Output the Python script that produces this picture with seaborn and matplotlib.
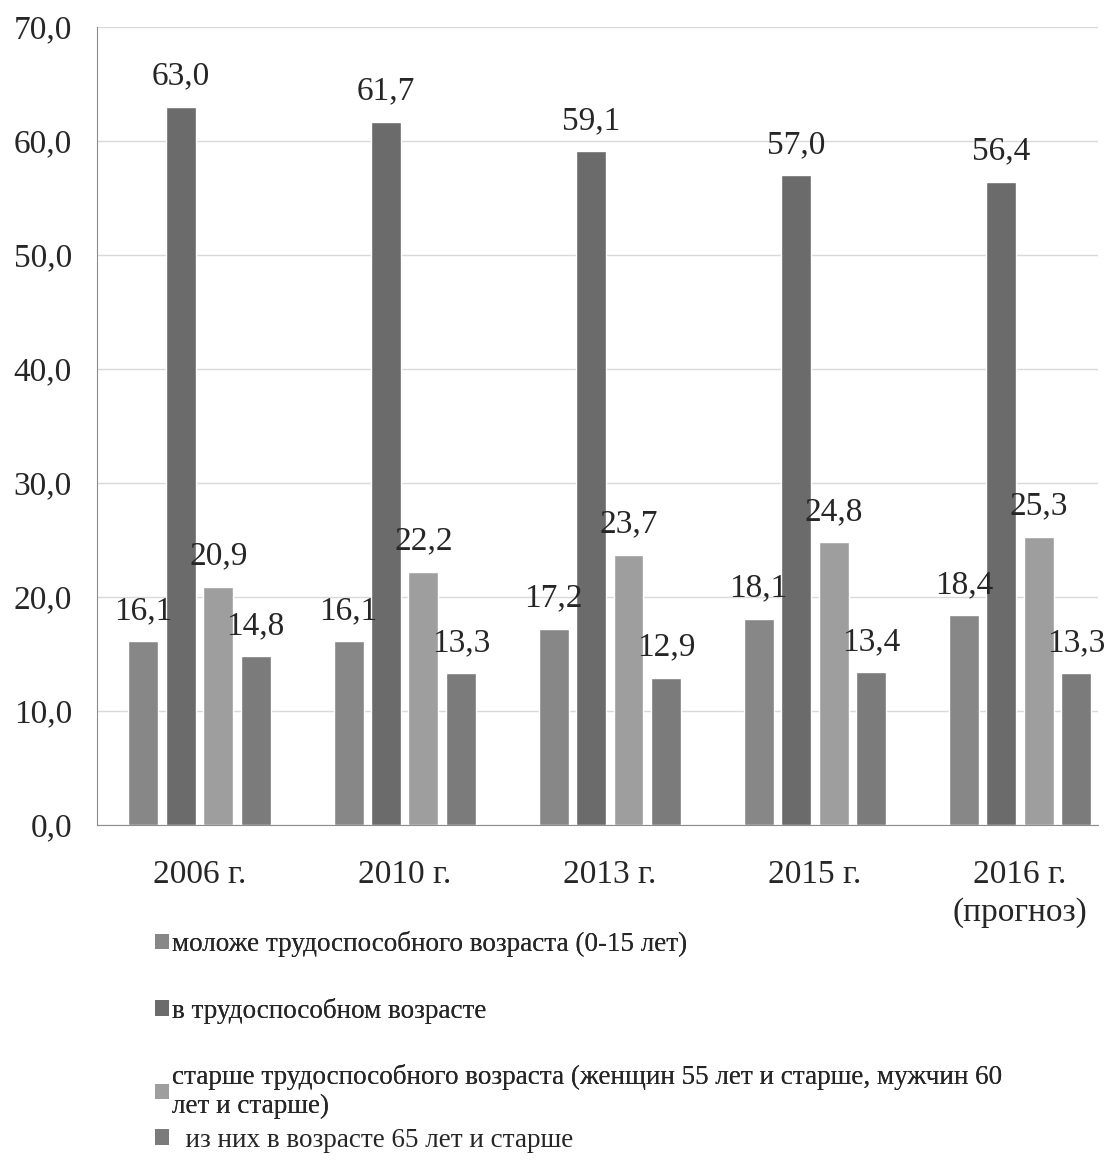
import pandas as pd
import numpy as np
import matplotlib
matplotlib.use('Agg')
import matplotlib.pyplot as plt
import seaborn as sns
from matplotlib.patches import Patch

# data
years = ['2006 г.', '2010 г.', '2013 г.', '2015 г.', '2016 г.\n(прогноз)']
series = ['моложе трудоспособного возраста (0-15 лет)',
          'в трудоспособном возрасте',
          'старше трудоспособного возраста (женщин 55 лет и старше, мужчин 60\nлет и старше)',
          '  из них в возрасте 65 лет и старше']
young = [16.1, 16.1, 17.2, 18.1, 18.4]
working = [63.0, 61.7, 59.1, 57.0, 56.4]
older = [20.9, 22.2, 23.7, 24.8, 25.3]
over65 = [14.8, 13.3, 12.9, 13.4, 13.3]
colors = ['#878787', '#6b6b6b', '#9e9e9e', '#7b7b7b']

rows = []
for name, vals in zip(series, [young, working, older, over65]):
    for y, v in zip(years, vals):
        rows.append({'year': y, 'group': name, 'value': v})
df = pd.DataFrame(rows)

sns.set_style('white')
plt.rcParams['font.family'] = ['Liberation Serif', 'DejaVu Serif']

fig = plt.figure(figsize=(11.09, 11.62), dpi=100)
ax = fig.add_axes([0.0875, 0.290, 0.9025, 0.6868])

sns.barplot(data=df, x='year', y='value', hue='group', palette=colors,
            width=0.73, gap=0.2, saturation=1, ax=ax, legend=False)

for cont in ax.containers:
    labels = [('%.1f' % v).replace('.', ',') for v in cont.datavalues]
    ax.bar_label(cont, labels=labels, padding=11, fontsize=24)

ax.set_ylim(0, 70)
ax.set_yticks(np.arange(0, 71, 10))
ax.set_yticklabels([('%.1f' % t).replace('.', ',') for t in np.arange(0, 71, 10)])
ax.set_xlim(-0.5, 4.38)
ax.yaxis.grid(True, color='#d9d9d9', lw=1)
ax.set_axisbelow(True)
ax.set_xlabel('')
ax.set_ylabel('')
ax.tick_params(axis='y', length=0, pad=18, labelsize=24)
ax.tick_params(axis='x', length=0, pad=25, labelsize=24)
for lbl in ax.get_xticklabels():
    lbl.set_linespacing(1.3)
for s in ['top', 'right']:
    ax.spines[s].set_visible(False)
ax.spines['left'].set_color('#8c8c8c')
ax.spines['bottom'].set_color('#8c8c8c')

handles = [Patch(facecolor=c, edgecolor='none') for c in colors]
leg_kw = dict(frameon=False, fontsize=19.5, handlelength=0.5, handleheight=0.5,
              handletextpad=0.12, borderaxespad=0, borderpad=0)
leg1 = fig.legend(handles[:3], series[:3], loc='upper left',
                  bbox_to_anchor=(0.1398, 0.1988), labelspacing=1.5, **leg_kw)
fig.add_artist(leg1)
fig.legend(handles[3:], series[3:], loc='center left',
           bbox_to_anchor=(0.1398, 0.0189), **leg_kw)

fig.savefig('out.png', dpi=100)
